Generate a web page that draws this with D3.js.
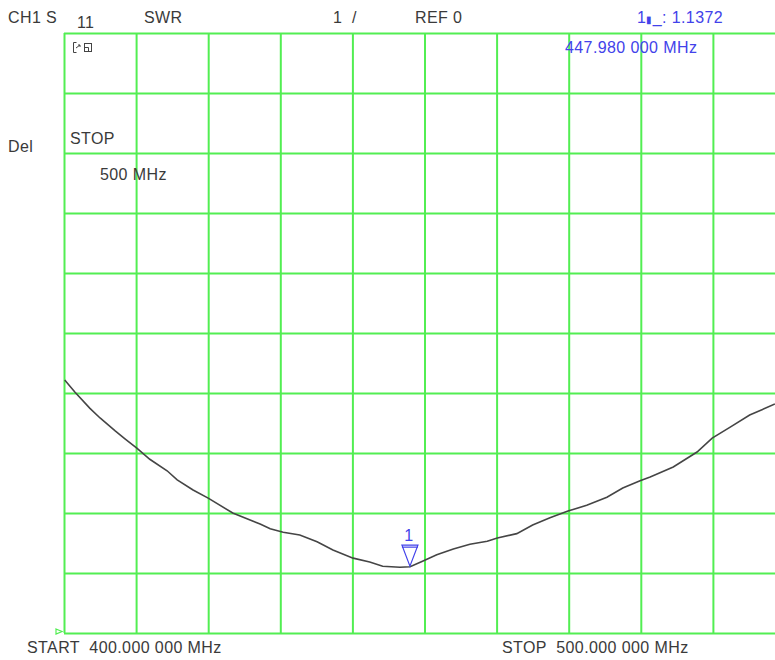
<!DOCTYPE html>
<html>
<head>
<meta charset="utf-8">
<script src="https://cdn.jsdelivr.net/npm/d3@7"></script>
<style>
  body { margin: 0; background: #fff; }
  svg { display: block; font-family: "Liberation Sans", Arial, sans-serif; }
  .lbl { fill: #3a3a3a; font-size: 16px; letter-spacing: 0.4px; }
  .blue { fill: #4242ea; font-size: 16px; letter-spacing: 0.4px; }
</style>
</head>
<body>
<svg id="chart" width="775" height="660"></svg>
<script>
// trace (MHz, SWR)
var freq = [400.1, 401.5, 403.6, 405.0, 407.1, 408.5, 410.1, 411.9, 414.3, 415.7, 417.9, 420.0,
  423.4, 427.2, 428.6, 430.4, 432.7, 435.1, 437.3, 440.1, 442.4, 444.2, 446.6, 448.0, 449.8,
  451.7, 454.0, 456.3, 458.7, 460.1, 462.8, 465.0, 467.4, 469.9, 472.5, 475.3, 477.5, 479.9,
  481.3, 484.5, 487.8, 489.9, 492.4, 495.1, 498.6];
var swr = [1.527, 1.502, 1.468, 1.448, 1.421, 1.404, 1.385, 1.362, 1.338, 1.319, 1.298, 1.281,
  1.250, 1.227, 1.217, 1.210, 1.204, 1.190, 1.173, 1.156, 1.148, 1.139, 1.137, 1.138, 1.150,
  1.163, 1.175, 1.185, 1.191, 1.198, 1.207, 1.225, 1.240, 1.254, 1.266, 1.283, 1.302, 1.317,
  1.325, 1.346, 1.377, 1.406, 1.429, 1.454, 1.477];
var xTicks = d3.range(400, 500.1, 10);
var yTicks = d3.range(1, 2.26, 0.125);
var markerFreq = 447.98;
var markerSwr = 1.1372;

var svg = d3.select("#chart");
var plotLeft = 64, plotTop = 33, plotW = 721, plotH = 600;

var x = d3.scaleLinear().domain([400, 500]).range([plotLeft, plotLeft + plotW]);
var y = d3.scaleLinear().domain([1, 2.25]).range([plotTop + plotH, plotTop]);

var green = "#52ee52";

// grid
svg.append("g")
  .attr("transform", "translate(0," + (plotTop + plotH) + ")")
  .call(d3.axisBottom(x).tickValues(xTicks).tickSize(-plotH).tickFormat(""));
svg.append("g")
  .attr("transform", "translate(" + plotLeft + ",0)")
  .call(d3.axisLeft(y).tickValues(yTicks).tickSize(-plotW).tickFormat(""));
svg.selectAll(".domain").remove();
svg.selectAll(".tick line").attr("stroke", green).attr("stroke-width", 2);

// reference marker at bottom-left
svg.append("path")
  .attr("d", "M56,629 L62,631.5 L56,634 Z")
  .attr("fill", "none").attr("stroke", green).attr("stroke-width", 1.2);

// trace
var line = d3.line()
  .x(function(d, i) { return x(freq[i]); })
  .y(function(d) { return y(d); });
svg.append("path")
  .datum(swr)
  .attr("d", line)
  .attr("fill", "none")
  .attr("stroke", "#454545")
  .attr("stroke-width", 1.6);

// marker 1
var mx = x(markerFreq), my = y(markerSwr);
svg.append("path")
  .attr("d", "M" + (mx - 8) + "," + (my - 22) + " L" + (mx + 8) + "," + (my - 22) +
    " L" + mx + "," + (my - 1) + " Z")
  .attr("fill", "none").attr("stroke", "#4242ea").attr("stroke-width", 1.2);
svg.append("line")
  .attr("x1", mx - 8).attr("x2", mx + 8)
  .attr("y1", my - 20).attr("y2", my - 20)
  .attr("stroke", "#4242ea").attr("stroke-width", 1.2);
svg.append("text").attr("class", "blue")
  .attr("x", mx - 1).attr("y", my - 26).attr("text-anchor", "middle")
  .text("1");

// small icon in the top-left cell
var icon = svg.append("g").attr("stroke", "#444").attr("fill", "none").attr("stroke-width", 1);
icon.append("path").attr("d", "M76.5,52.5 L73.5,52.5 L73.5,42.5 L76.5,42.5");
icon.append("path").attr("d", "M76,48 L80,45 M78,45 L80,45 L80,47");
icon.append("rect").attr("x", 84.5).attr("y", 43.5).attr("width", 7).attr("height", 8);
icon.append("path").attr("d", "M84.5,47.5 L88.5,47.5 L88.5,51.5");

// annotations
var labels = [
  ["CH1 S", 8, 23, "lbl"], ["11", 77, 28, "lbl"], ["SWR", 144, 23, "lbl"],
  ["1  /", 333, 23, "lbl"], ["REF 0", 415, 23, "lbl"],
  ["447.980 000 MHz", 565, 53, "blue"],
  ["Del", 8, 152, "lbl"], ["STOP", 70, 144, "lbl"], ["500 MHz", 100, 180, "lbl"],
  ["START  400.000 000 MHz", 27, 653, "lbl"], ["STOP  500.000 000 MHz", 502, 653, "lbl"]
];
svg.selectAll("text.ann")
  .data(labels)
  .enter().append("text")
  .attr("class", function(d) { return "ann " + d[3]; })
  .attr("x", function(d) { return d[1]; })
  .attr("y", function(d) { return d[2]; })
  .attr("xml:space", "preserve")
  .style("white-space", "pre")
  .text(function(d) { return d[0]; });

// marker readout, with the small block glyph after the marker number
var readout = svg.append("text").attr("class", "blue").attr("x", 637).attr("y", 23);
readout.append("tspan").text("1");
readout.append("tspan").style("font-size", "10px").text("\u25AE");
readout.append("tspan").text("_: " + markerSwr.toFixed(4));
</script>
</body>
</html>
